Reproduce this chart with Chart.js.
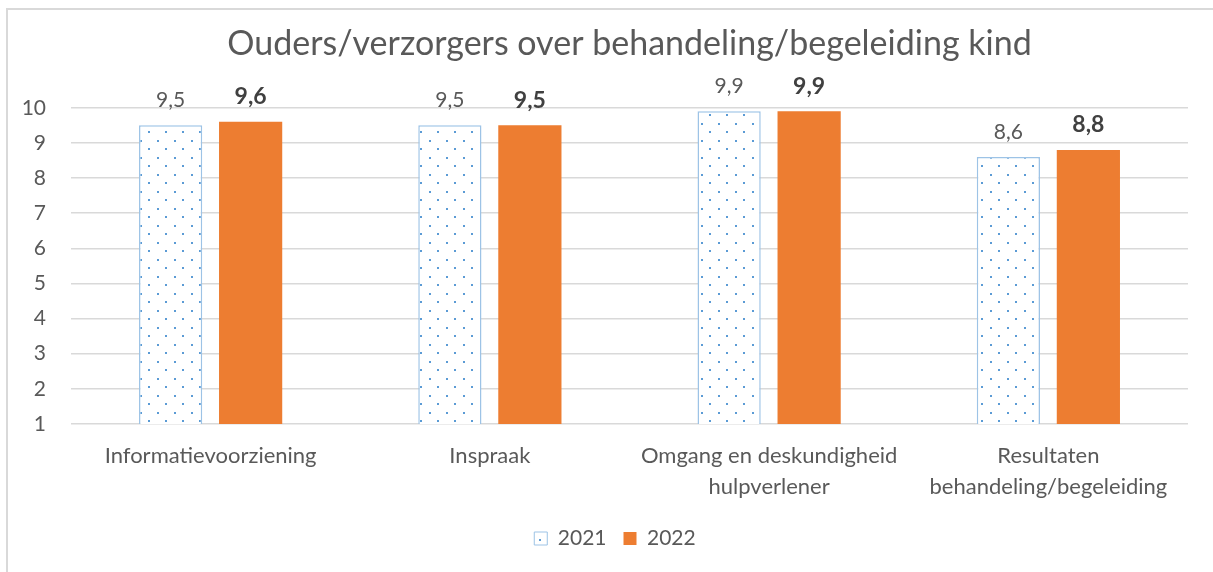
<!DOCTYPE html>
<html>
<head>
<meta charset="utf-8">
<script src="https://cdn.jsdelivr.net/npm/chart.js@4/dist/chart.umd.min.js"></script>
<style>
  html, body { margin: 0; padding: 0; background: #fff; }
  #wrap { position: relative; width: 1213px; height: 572px; overflow: hidden; }
  #frame { position: absolute; left: 6px; top: 8px; width: 1240px; height: 600px; border: 2px solid #d9d9d9; box-sizing: border-box; }
  #chart { position: absolute; left: 0; top: 0; }
</style>
</head>
<body>
<div id="wrap">
  <div id="frame"></div>
  <canvas id="chart" width="1213" height="572"></canvas>
</div>
<script>
// Chart data
const categories = [
    'Informatievoorziening',
    'Inspraak',
    ['Omgang en deskundigheid', 'hulpverlener'],
    ['Resultaten', 'behandeling/begeleiding']
];
const values2021 = [9.5, 9.5, 9.9, 8.6];
const values2022 = [9.6, 9.5, 9.9, 8.8];
const yTicks = [1, 2, 3, 4, 5, 6, 7, 8, 9, 10];

const FONT = "Lato, sans-serif";
const TEXT = '#595959';

// Dotted fill for the 2021 bars
function makeDotPattern() {
    const tile = document.createElement('canvas');
    tile.width = 17;
    tile.height = 17;
    const t = tile.getContext('2d');
    t.fillStyle = '#ffffff';
    t.fillRect(0, 0, 17, 17);
    t.fillStyle = '#5b9bd5';
    t.fillRect(4, 4, 2, 2);
    t.fillRect(12, 12, 2, 2);
    return t.createPattern(tile, 'repeat');
}

const canvas = document.getElementById('chart');
const ctx = canvas.getContext('2d');
const dots = makeDotPattern();

// Value labels above each bar (2022 in bold)
const valueLabels = {
    id: 'valueLabels',
    afterDatasetsDraw(chart) {
        const c = chart.ctx;
        c.save();
        c.textAlign = 'center';
        c.textBaseline = 'middle';
        chart.data.datasets.forEach((ds, di) => {
            const meta = chart.getDatasetMeta(di);
            meta.data.forEach((bar, i) => {
                const bold = di === 1;
                c.font = (bold ? 'bold 23px ' : '21px ') + FONT;
                c.fillStyle = bold ? '#404040' : TEXT;
                const txt = ds.data[i].toFixed(1).replace('.', ',');
                c.fillText(txt, bar.x, bar.y - 25);
            });
        });
        c.restore();
    }
};

// Legend sits a bit right of the canvas centre in the original
const legendShift = {
    id: 'legendShift',
    afterLayout(chart) {
        chart.legend.left += 16;
        chart.legend.right += 16;
    }
};

new Chart(ctx, {
    type: 'bar',
    data: {
        labels: categories,
        datasets: [
            {
                label: '2021',
                data: values2021,
                backgroundColor: dots,
                borderColor: '#9dc3e6',
                borderWidth: 1.5,
                categoryPercentage: 0.573,
                barPercentage: 0.79
            },
            {
                label: '2022',
                data: values2022,
                backgroundColor: '#ed7d31',
                borderColor: '#ed7d31',
                borderWidth: 0,
                categoryPercentage: 0.573,
                barPercentage: 0.79
            }
        ]
    },
    options: {
        responsive: false,
        animation: false,
        layout: {
            padding: { left: 10, right: 25, top: 0, bottom: 13 }
        },
        plugins: {
            title: {
                display: true,
                fullSize: false,
                text: 'Ouders/verzorgers over behandeling/begeleiding kind',
                color: TEXT,
                font: { family: FONT, size: 34, weight: 'normal' },
                padding: { top: 24, bottom: 43 }
            },
            legend: {
                display: true,
                position: 'bottom',
                labels: {
                    color: TEXT,
                    font: { family: FONT, size: 21 },
                    boxWidth: 13,
                    boxHeight: 13,
                    padding: 17,
                    generateLabels(chart) {
                        return chart.data.datasets.map((ds, i) => ({
                            text: ds.label,
                            fillStyle: ds.backgroundColor,
                            strokeStyle: ds.borderColor,
                            lineWidth: i === 0 ? 1 : 0,
                            datasetIndex: i,
                            fontColor: TEXT
                        }));
                    }
                }
            },
            tooltip: { enabled: false }
        },
        scales: {
            x: {
                grid: { display: false },
                border: { display: false },
                afterFit(axis) {
                    axis.height = 87;
                },
                ticks: {
                    color: TEXT,
                    font: { family: FONT, size: 22, lineHeight: 1.4 },
                    maxRotation: 0,
                    autoSkip: false,
                    padding: 9
                }
            },
            y: {
                min: 1,
                max: 10,
                afterBuildTicks(axis) {
                    axis.ticks = yTicks.map(v => ({ value: v }));
                },
                afterFit(axis) {
                    axis.width = 61;
                },
                grid: { color: '#d9d9d9', lineWidth: 1.5, drawTicks: false },
                border: { display: false },
                ticks: {
                    color: TEXT,
                    font: { family: FONT, size: 21 },
                    padding: 25
                }
            }
        }
    },
    plugins: [valueLabels, legendShift]
});
</script>
</body>
</html>
